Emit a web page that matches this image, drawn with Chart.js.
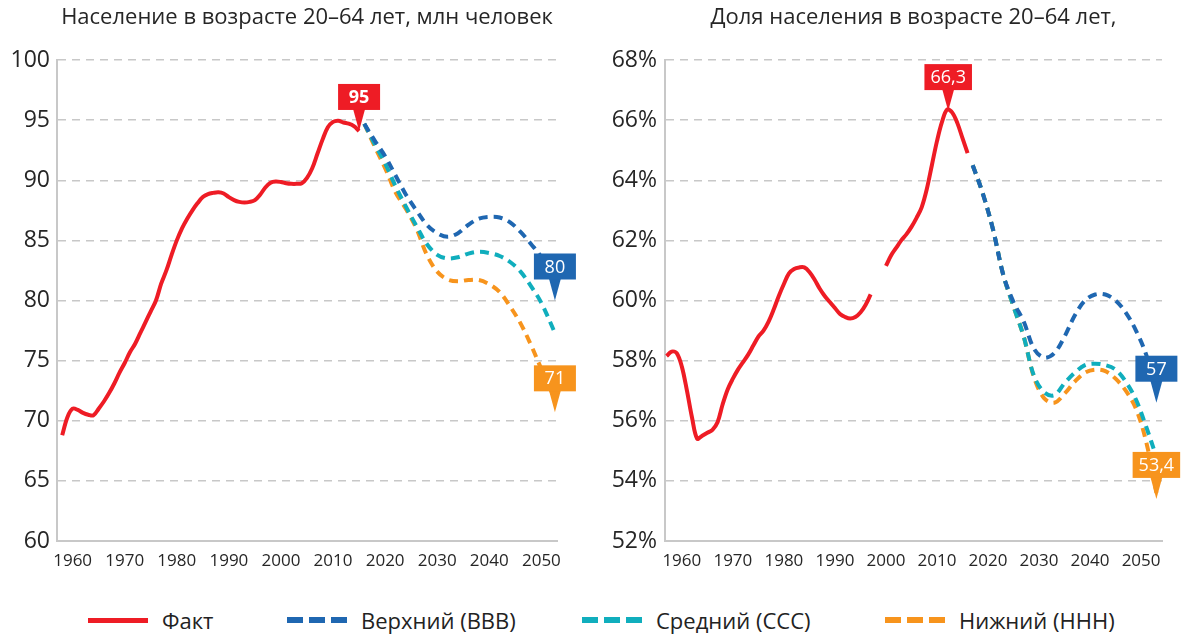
<!DOCTYPE html>
<html lang="ru">
<head>
<meta charset="utf-8">
<script src="https://cdn.jsdelivr.net/npm/chart.js@4.4.1/dist/chart.umd.min.js"></script>
<style>
body { margin: 0; background: #fff; font-family: 'Open Sans', sans-serif; overflow: hidden; }
#left { position: absolute; left: 0; top: 0; width: 585px; height: 592px; }
#right { position: absolute; left: 590px; top: 0; width: 592px; height: 592px; }
#legend { position: absolute; left: 0; top: 605px; width: 1182px; height: 30px; font-size: 22px; line-height: 30px; color: #222; }
.item { position: absolute; top: 0; height: 30px; display: flex; align-items: center; white-space: nowrap; }
.sw { width: 60px; height: 6px; margin-right: 14px; }
</style>
</head>
<body>
<div id="left"><canvas id="chartL"></canvas></div>
<div id="right"><canvas id="chartR"></canvas></div>
<div id="legend">
  <div class="item" style="left:88px"><div class="sw" style="background:#EE1C25;height:5px"></div>Факт</div>
  <div class="item" style="left:287px"><div class="sw" style="background:repeating-linear-gradient(90deg,#1F67B1 0 16px,transparent 16px 22px)"></div>Верхний (ВВВ)</div>
  <div class="item" style="left:582px"><div class="sw" style="background:repeating-linear-gradient(90deg,#10AEBD 0 16px,transparent 16px 22px)"></div>Средний (ССС)</div>
  <div class="item" style="left:885px"><div class="sw" style="background:repeating-linear-gradient(90deg,#F7941D 0 16px,transparent 16px 22px)"></div>Нижний (ННН)</div>
</div>
<script>
// --- данные: левый график, млн человек ---
var factYearsL = [1958, 1959, 1960, 1961, 1962, 1963, 1964, 1965, 1966, 1967, 1968, 1969, 1970,
  1971, 1972, 1973, 1974, 1975, 1976, 1977, 1978, 1979, 1980, 1981, 1982, 1983, 1984, 1985,
  1986, 1987, 1988, 1989, 1990, 1991, 1992, 1993, 1994, 1995, 1996, 1997, 1998, 1999, 2000,
  2001, 2002, 2003, 2004, 2005, 2006, 2007, 2008, 2009, 2010, 2011, 2012, 2013, 2014, 2015];
var factL = [68.8, 70.3, 71.0, 70.9, 70.65, 70.5, 70.45, 71.0, 71.6, 72.3, 73.1, 74.0, 74.8,
  75.7, 76.4, 77.3, 78.2, 79.1, 80.0, 81.4, 82.5, 83.8, 85.0, 86.0, 86.8, 87.5, 88.1, 88.6,
  88.85, 88.95, 89.0, 88.9, 88.6, 88.35, 88.2, 88.15, 88.2, 88.35, 88.8, 89.4, 89.8, 89.9, 89.85,
  89.75, 89.7, 89.7, 89.75, 90.2, 91.0, 92.2, 93.4, 94.4, 94.85, 94.95, 94.8, 94.7, 94.5, 94.1];

var projYearsL = [2016, 2018, 2020, 2022, 2024, 2026, 2028, 2030, 2032, 2034, 2036, 2038,
  2040, 2042, 2044, 2046, 2048, 2050, 2052.6];
var upperL  = [94.7, 93.3, 92.0, 90.4, 88.8, 87.5, 86.3, 85.6, 85.3, 85.6, 86.3, 86.8,
  86.95, 86.9, 86.5, 85.7, 84.7, 83.6, 81.5];
var middleL = [94.7, 93.0, 91.4, 89.5, 87.8, 86.2, 84.7, 83.8, 83.5, 83.6, 83.9, 84.05,
  83.95, 83.7, 83.2, 82.4, 81.2, 79.8, 77.3];
var lowerL  = [94.7, 92.8, 91.0, 89.0, 87.6, 86.0, 83.8, 82.4, 81.75, 81.6, 81.7, 81.7,
  81.35, 80.7, 79.5, 78.1, 76.3, 74.3, 71.8];

var calloutYearsL = [2015, 2052.6, 2052.6];
var calloutValuesL = [94.1, 80, 70.7];
var calloutTextL = ['95', '80', '71'];

// --- данные: правый график, доля в % ---
var factYearsR = [1957, 1958, 1959, 1960, 1961, 1962, 1963, 1964, 1965, 1966, 1967, 1968, 1969,
  1970, 1971, 1972, 1973, 1974, 1975, 1976, 1977, 1978, 1979, 1980, 1981, 1982, 1983, 1984,
  1985, 1986, 1987, 1988, 1989, 1990, 1991, 1992, 1993, 1994, 1995, 1996, 1997, 1998, 1999,
  2000, 2001, 2002, 2003, 2004, 2005, 2006, 2007, 2008, 2009, 2010, 2011, 2012, 2013, 2014,
  2015, 2016];
var factR = [58.15, 58.3, 58.25, 57.8, 57.0, 56.1, 55.4, 55.5, 55.6, 55.7, 55.95, 56.55, 57.05,
  57.4, 57.7, 57.95, 58.2, 58.5, 58.8, 59.0, 59.3, 59.7, 60.15, 60.55, 60.9, 61.05, 61.1, 61.1,
  60.95, 60.7, 60.4, 60.15, 59.95, 59.75, 59.55, 59.45, 59.4, 59.45, 59.6, 59.85, 60.2, null, null,
  61.15, 61.5, 61.75, 62.0, 62.2, 62.45, 62.75, 63.1, 63.7, 64.5, 65.3, 65.95, 66.35, 66.25, 65.9,
  65.4, 64.9];

var projYearsR = [2017, 2019, 2021, 2023, 2025, 2027, 2029, 2031, 2033, 2035, 2037, 2039,
  2041, 2043, 2045, 2047, 2049, 2051, 2053];
var upperR  = [64.5, 63.55, 62.35, 60.85, 59.95, 59.3, 58.4, 58.1, 58.25, 58.8, 59.5, 60.0,
  60.2, 60.2, 60.0, 59.6, 59.0, 58.2, 57.0];
var middleR = [64.5, 63.55, 62.35, 60.85, 59.8, 58.8, 57.5, 56.95, 56.85, 57.25, 57.6, 57.85,
  57.9, 57.85, 57.7, 57.3, 56.7, 55.8, 54.8];
var lowerR  = [64.5, 63.55, 62.35, 60.85, 59.8, 58.8, 57.45, 56.75, 56.6, 56.9, 57.3, 57.6,
  57.7, 57.65, 57.4, 57.0, 56.4, 55.3, 53.6];

var calloutYearsR = [2012.2, 2053, 2053];
var calloutValuesR = [66.3, 56.6, 53.4];
var calloutTextR = ['66,3', '57', '53,4'];

var xTicks = [1960, 1970, 1980, 1990, 2000, 2010, 2020, 2030, 2040, 2050];

var RED = '#EE1C25', BLUE = '#1F67B1', TEAL = '#10AEBD', ORANGE = '#F7941D';
var GRID = '#C8C8C8', TEXT = '#262626';

function pts(xs, ys) {
  return xs.map(function (x, i) { return {x: x, y: ys[i]}; });
}

// выноски со значениями
var calloutPlugin = {
  id: 'callouts',
  afterDatasetsDraw: function (chart, args, opts) {
    var ctx = chart.ctx, xs = chart.scales.x, ys = chart.scales.y;
    opts.items.forEach(function (c) {
      var px = xs.getPixelForValue(c.x), py = ys.getPixelForValue(c.y);
      var h = 26, tri = 21;
      ctx.save();
      ctx.font = (c.bold ? 'bold ' : '') + '18px "Open Sans", sans-serif';
      var w = Math.max(42, ctx.measureText(c.text).width + 12);
      ctx.fillStyle = c.color;
      ctx.beginPath();
      ctx.moveTo(px, py);
      ctx.lineTo(px - 6, py - tri - 1);
      ctx.lineTo(px + 6, py - tri - 1);
      ctx.closePath();
      ctx.fill();
      ctx.fillRect(px - w / 2, py - tri - h, w, h);
      ctx.fillStyle = '#fff';
      ctx.textAlign = 'center';
      ctx.textBaseline = 'middle';
      ctx.fillText(c.text, px, py - tri - h / 2 + 1);
      ctx.restore();
    });
  }
};

function callouts(xs, vs, txt, colors, bold) {
  return xs.map(function (x, i) {
    return {x: x, y: vs[i], text: txt[i], color: colors[i], bold: bold[i]};
  });
}

function makeChart(id, o) {
  var ctx = document.getElementById(id).getContext('2d');
  return new Chart(ctx, {
    type: 'line',
    data: {
      datasets: [
        {label: 'Факт', data: pts(o.factYears, o.fact), borderColor: RED, borderWidth: 4, spanGaps: false},
        {label: 'Верхний (ВВВ)', data: pts(o.projYears, o.upper), borderColor: BLUE, borderWidth: 4, borderDash: [9, 6]},
        {label: 'Средний (ССС)', data: pts(o.projYears, o.middle), borderColor: TEAL, borderWidth: 4, borderDash: [9, 6]},
        {label: 'Нижний (ННН)', data: pts(o.projYears, o.lower), borderColor: ORANGE, borderWidth: 4, borderDash: [9, 6]}
      ]
    },
    options: {
      responsive: true,
      maintainAspectRatio: false,
      animation: false,
      elements: {
        point: {radius: 0, hoverRadius: 0},
        line: {tension: 0.35, fill: false}
      },
      layout: {padding: {left: 0, right: o.padRight, top: 0, bottom: 0}},
      plugins: {
        legend: {display: false},
        tooltip: {enabled: false},
        title: {
          display: true,
          text: o.title,
          fullSize: false,
          color: TEXT,
          font: {family: '"Open Sans", sans-serif', size: 22, weight: 'normal'},
          padding: {top: 5, bottom: 28.6}
        },
        callouts: {items: o.callouts}
      },
      scales: {
        x: {
          type: 'linear',
          min: o.xMin,
          max: o.xMax,
          afterBuildTicks: function (s) { s.ticks = xTicks.map(function (v) { return {value: v}; }); },
          afterFit: function (s) { s.height = 51; },
          grid: {display: false, drawTicks: false},
          border: {display: true, color: GRID, width: 2},
          ticks: {
            color: TEXT, padding: 10, maxRotation: 0, autoSkip: false,
            font: {family: '"Open Sans", sans-serif', size: 17},
            callback: function (v) { return String(v); }
          }
        },
        y: {
          min: o.yMin,
          max: o.yMax,
          afterFit: function (s) { s.width = o.yWidth; },
          grid: {color: GRID, lineWidth: 1.5, drawTicks: false},
          border: {display: true, color: GRID, width: 2, dash: [8, 6]},
          ticks: {
            stepSize: o.yStep, color: TEXT, padding: o.yPad,
            font: {family: '"Open Sans", sans-serif', size: 23},
            callback: o.yFmt
          }
        }
      }
    },
    plugins: [calloutPlugin]
  });
}

makeChart('chartL', {
  title: 'Население в возрасте 20–64 лет, млн человек',
  factYears: factYearsL, fact: factL,
  projYears: projYearsL, upper: upperL, middle: middleL, lower: lowerL,
  callouts: callouts(calloutYearsL, calloutValuesL, calloutTextL, [RED, BLUE, ORANGE], [true, false, false]),
  xMin: 1957, xMax: 2053, yMin: 60, yMax: 100, yStep: 5,
  yWidth: 57, yPad: 7, padRight: 28,
  yFmt: function (v) { return String(v); }
});

makeChart('chartR', {
  title: 'Доля населения в возрасте 20–64 лет,',
  factYears: factYearsR, fact: factR,
  projYears: projYearsR, upper: upperR, middle: middleR, lower: lowerR,
  callouts: callouts(calloutYearsR, calloutValuesR, calloutTextR, [RED, BLUE, ORANGE], [false, false, false]),
  xMin: 1956.7, xMax: 2054.1, yMin: 52, yMax: 68, yStep: 2,
  yWidth: 75, yPad: 8, padRight: 20,
  yFmt: function (v) { return v + '%'; }
});
</script>
</body>
</html>
